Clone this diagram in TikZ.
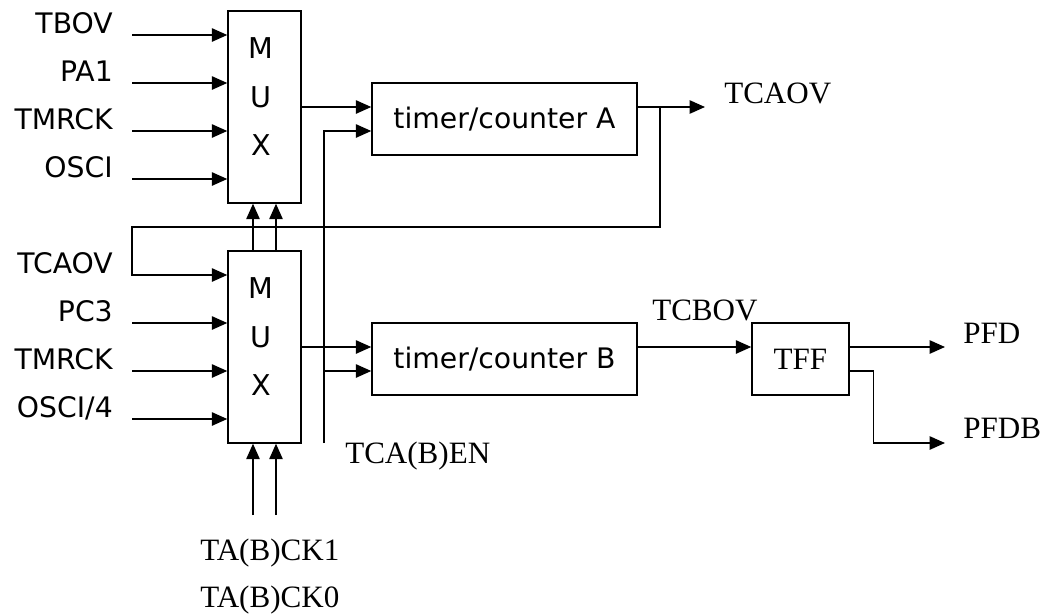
\documentclass[tikz,border=0pt]{standalone}
\usepackage{fontspec}
\setmainfont{Liberation Serif}
\setsansfont{DejaVu Sans}
\usetikzlibrary{arrows.meta}

\tikzset{
  sig/.style={line width=1.1pt, -{Triangle[length=11.5pt,width=10pt]}},
  blk/.style={draw, line width=1.1pt, rectangle, inner sep=0pt},
  mux/.style={blk, minimum width=54.75pt, minimum height=144pt},
  muxtxt/.style={inner sep=0pt, align=center, font=\sffamily\fontsize{21.5pt}{36.4pt}\selectfont},
  tc/.style={blk, minimum width=198.75pt, minimum height=54pt, font=\sffamily\fontsize{21.2pt}{25pt}\selectfont},
  slab/.style={inner sep=0pt, anchor=base east, font=\sffamily\fontsize{21.2pt}{25pt}\selectfont},
  tlab/.style={inner sep=0pt, anchor=base west, font=\fontsize{23.3pt}{28pt}\selectfont},
}

\begin{document}
\begin{tikzpicture}[x=0.75pt, y=-0.75pt]
  \useasboundingbox (0,0) rectangle (1047,615);

  % blocks
  \node[mux] (mux1) at (264.5,107) {};
  \node[mux] (mux2) at (264.5,347) {};
  \node[muxtxt] (mux1t) at (261,97) {M\\U\\X};
  \node[muxtxt] (mux2t) at (261,337) {M\\U\\X};
  \node[tc] (tca) at (504.5,119) {timer/counter A};
  \node[tc] (tcb) at (504.5,359) {timer/counter B};
  \node[blk, minimum width=72.75pt, minimum height=54pt, font=\fontsize{23.3pt}{28pt}\selectfont] (tff) at (800.5,359) {TFF};

  % inputs of the two muxes
  \coordinate (in1) at (132,35);
  \coordinate (in2) at (132,83);
  \coordinate (in3) at (132,131);
  \coordinate (in4) at (132,179);
  \coordinate (in5) at (132,275);
  \coordinate (in6) at (132,323);
  \coordinate (in7) at (132,371);
  \coordinate (in8) at (132,419);
  \draw[sig] (in1) -- (in1 -| mux1.west);
  \draw[sig] (in2) -- (in2 -| mux1.west);
  \draw[sig] (in3) -- (in3 -| mux1.west);
  \draw[sig] (in4) -- (in4 -| mux1.west);
  \draw[sig] (in6) -- (in6 -| mux2.west);
  \draw[sig] (in7) -- (in7 -| mux2.west);
  \draw[sig] (in8) -- (in8 -| mux2.west);
  \node[slab] (l1) at (113,33) {TBOV};
  \node[slab] (l2) at (113,81) {PA1};
  \node[slab] (l3) at (113,129) {TMRCK};
  \node[slab] (l4) at (113,177) {OSCI};
  \node[slab] (l5) at (113,273) {TCAOV};
  \node[slab] (l6) at (113,321) {PC3};
  \node[slab] (l7) at (113,369) {TMRCK};
  \node[slab] (l8) at (113,417) {OSCI/4};

  % clock select lines
  \coordinate (ck1) at (253,515);
  \coordinate (ck0) at (276,515);
  \draw[sig] (ck1) -- (ck1 |- mux2.south);
  \draw[sig] (ck0) -- (ck0 |- mux2.south);
  \draw[sig] (ck1 |- mux2.north) -- (ck1 |- mux1.south);
  \draw[sig] (ck0 |- mux2.north) -- (ck0 |- mux1.south);
  \node[tlab] (ck1l) at (200,560) {TA(B)CK1};
  \node[tlab] (ck0l) at (200,607) {TA(B)CK0};

  % mux outputs and enable
  \draw[sig] (mux1.east) -- (mux1.east -| tca.west);
  \draw[sig] (mux2.east) -- (mux2.east -| tcb.west);
  \coordinate (en) at (324,443);
  \coordinate (ena) at ([yshift=-9pt]tca.west);
  \coordinate (enb) at ([yshift=-9pt]tcb.west);
  \draw[sig] (en) |- (ena);
  \draw[sig] (en |- enb) -- (enb);
  \node[tlab] (enl) at (345,463) {TCA(B)EN};

  % overflow of A, fed back to mux2
  \coordinate (aov) at (705,107);
  \coordinate (fb) at (660,227);
  \draw[sig] ([yshift=9pt]tca.east) -- (aov);
  \draw[sig] (fb |- aov) -- (fb) -| (in5) -- (in5 -| mux2.west);
  \node[tlab] (aovl) at (724,103) {TCAOV};

  % overflow of B and toggle flip-flop
  \draw[sig] ([yshift=9pt]tcb.east) -- ([yshift=9pt]tff.west);
  \node[tlab] (bovl) at (652,320) {TCBOV};
  \coordinate (pfd) at (945,347);
  \coordinate (pfdb) at (945,443);
  \draw[sig] ([yshift=9pt]tff.east) -- (pfd);
  \draw[sig] ([yshift=-9pt]tff.east) -- ++(24,0) |- (pfdb);
  \node[tlab] (pfdl) at (963,343) {PFD};
  \node[tlab] (pfdbl) at (963,438) {PFDB};
\end{tikzpicture}
\end{document}
